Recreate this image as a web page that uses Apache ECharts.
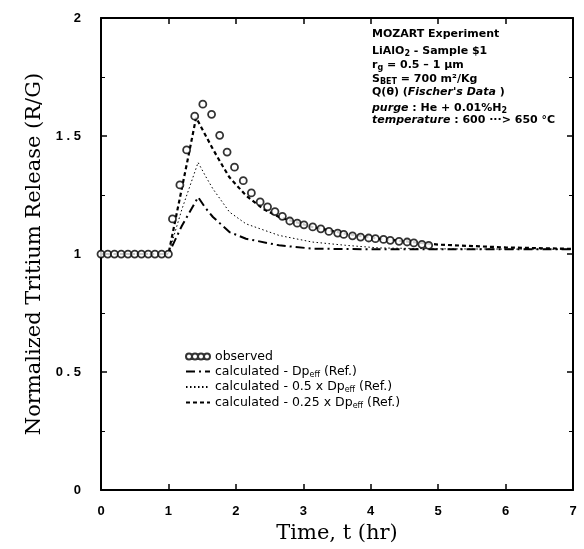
<!DOCTYPE html>
<html><head><meta charset="utf-8">
<script src="https://cdn.jsdelivr.net/npm/echarts@6/dist/echarts.min.js"></script>
<style>html,body{margin:0;padding:0;background:#fff}#c{width:584px;height:549px}</style>
</head><body><div id="c"></div>
<script>
// ---- data ----
const xTicks = [0,1,2,3,4,5,6,7];
const yTicks = [0,0.5,1,1.5,2];
const obsT = [0,0.1,0.2,0.3,0.4,0.5,0.6,0.7,0.8,0.9,1.0,1.06,1.17,1.27,1.39,1.51,1.64,1.76,1.87,1.98,2.11,2.23,2.36,2.47,2.58,2.69,2.80,2.91,3.01,3.14,3.26,3.38,3.51,3.60,3.73,3.85,3.97,4.07,4.19,4.29,4.42,4.54,4.64,4.76,4.86];
const obsV = [1,1,1,1,1,1,1,1,1,1,1,1.149,1.293,1.441,1.584,1.635,1.592,1.503,1.432,1.368,1.311,1.259,1.221,1.200,1.180,1.160,1.140,1.131,1.124,1.115,1.107,1.096,1.089,1.083,1.077,1.072,1.068,1.065,1.062,1.058,1.054,1.051,1.047,1.041,1.037];
const calcRefT = [0,1.0,1.2,1.44,1.55,1.66,1.905,2.15,2.64,3.13,4.0,5.0,7.0];
const calcRefV = [1,1,1.12,1.241,1.195,1.157,1.093,1.065,1.037,1.023,1.02,1.02,1.02];
const calcHalfT = [0,1.0,1.2,1.44,1.55,1.66,1.905,2.15,2.64,3.13,3.63,4.12,5.0,7.0];
const calcHalfV = [1,1,1.19,1.388,1.33,1.276,1.178,1.128,1.079,1.051,1.037,1.026,1.022,1.02];
const calcQuartT = [0,1.0,1.1,1.2,1.3,1.41,1.5,1.66,1.8,1.905,2.15,2.4,2.64,3.13,3.63,4.12,5.0,6.0,7.0];
const calcQuartV = [1,1,1.14,1.28,1.42,1.578,1.53,1.444,1.375,1.325,1.248,1.192,1.157,1.115,1.086,1.065,1.04,1.028,1.022];
const seriesNames = ['observed','calculated - Dp_eff (Ref.)','calculated - 0.5 x Dp_eff (Ref.)','calculated - 0.25 x Dp_eff (Ref.)'];

const pair = (t,v) => t.map((x,i)=>[x,v[i]]);
const chart = echarts.init(document.getElementById('c'), null, {renderer:'canvas'});
const ringPath = 'path://M2,5a3,3 0 1,0 6,0a3,3 0 1,0 -6,0M8,5a3,3 0 1,0 6,0a3,3 0 1,0 -6,0M14,5a3,3 0 1,0 6,0a3,3 0 1,0 -6,0M20,5a3,3 0 1,0 6,0a3,3 0 1,0 -6,0';
const tickFont = {fontFamily:'Liberation Sans', fontWeight:'bold', fontSize:13, color:'#000'};
const serif = 'DejaVu Serif';
const sans = 'DejaVu Sans';
const axisBase = {
  axisLine:{onZero:false, lineStyle:{color:'#000', width:2}},
  axisTick:{inside:true, length:6, lineStyle:{color:'#000', width:1.5}},
  splitLine:{show:false}
};
function legendFmt(n){
  if(n==='observed') return '{a|observed}';
  return n.replace(/^(.*)Dp_eff(.*)$/, '{a|$1Dp}{s|eff}{a|$2}');
}
chart.setOption({
  animation:false,
  backgroundColor:'#fff',
  color:['#000','#000','#000','#000'],
  grid:{left:101, top:18, width:472, height:475},
  xAxis:[
    Object.assign({type:'value', min:0, max:7, interval:1, position:'bottom',
      name:'Time, t (hr)', nameLocation:'middle', nameGap:26,
      nameTextStyle:{fontFamily:serif, fontSize:21, color:'#000'},
      axisLabel:Object.assign({margin:15, formatter:v=>xTicks.includes(v)?String(v):''}, tickFont)}, axisBase),
    Object.assign({type:'value', min:0, max:7, interval:1, position:'top', axisLabel:{show:false}}, axisBase)
  ],
  yAxis:[
    Object.assign({type:'value', min:0, max:2, interval:0.5, position:'left',
      name:'Normalized Tritium Release (R/G)', nameLocation:'middle', nameGap:56,
      nameTextStyle:{fontFamily:serif, fontSize:21, color:'#000'},
      minorTick:{show:true, splitNumber:2, length:4, lineStyle:{color:'#000'}},
      axisLabel:Object.assign({margin:20, formatter:v=>yTicks.includes(v)?(v%1===0?String(v):String(v).replace('.',' . ')):''}, tickFont)}, axisBase),
    Object.assign({type:'value', min:0, max:2, interval:0.5, position:'right', axisLabel:{show:false},
      minorTick:{show:true, splitNumber:2, length:4, lineStyle:{color:'#000'}}}, axisBase)
  ],
  legend:{
    orient:'vertical', left:180, top:345, itemGap:2, itemWidth:24, itemHeight:10,
    data:[
      {name:seriesNames[0], icon:ringPath},
      {name:seriesNames[1], itemStyle:{opacity:0}},
      {name:seriesNames[2], itemStyle:{opacity:0}},
      {name:seriesNames[3], itemStyle:{opacity:0}}
    ],
    formatter:legendFmt,
    textStyle:{rich:{
      a:{fontFamily:sans, fontSize:12.5, color:'#000'},
      s:{fontFamily:sans, fontSize:8, color:'#000', verticalAlign:'bottom', padding:[6,0,0,0]}
    }}
  },
  series:[
    {name:seriesNames[0], type:'scatter', data:pair(obsT,obsV), symbol:'circle', symbolSize:7,
      itemStyle:{color:'#fff', borderColor:'#000', borderWidth:1.8}, z:5},
    {name:seriesNames[1], type:'line', data:pair(calcRefT,calcRefV), showSymbol:false, symbol:'none',
      itemStyle:{color:'#000'}, lineStyle:{color:'#000', width:2, type:[9,4,2,4]}},
    {name:seriesNames[2], type:'line', data:pair(calcHalfT,calcHalfV), showSymbol:false, symbol:'none',
      itemStyle:{color:'#000'}, lineStyle:{color:'#000', width:1, type:[1.5,2.5]}},
    {name:seriesNames[3], type:'line', data:pair(calcQuartT,calcQuartV), showSymbol:false, symbol:'none',
      itemStyle:{color:'#000'}, lineStyle:{color:'#000', width:2.2, type:[4,3]}}
  ],
  graphic:[{
    type:'group', left:372, top:29,
    children:[
      ['{a|MOZART Experiment}',0],
      ['{a|LiAlO}{s|2}{a| - Sample $1}',15],
      ['{a|r}{s|g}{a| = 0.5 – 1 µm}',29],
      ['{a|S}{s|BET}{a| = 700 m²/Kg}',43],
      ['{a|Q(θ) (}{i|Fischer\'s Data}{a| )}',58],
      ['{i|purge}{a| : He + 0.01%H}{s|2}',72],
      ['{i|temperature}{a| : 600 ···> 650 °C}',86]
    ].map(([t,y])=>({type:'text', x:0, y:y, style:{text:t, rich:{
      a:{fontFamily:sans, fontSize:11, fontWeight:'bold', fill:'#000'},
      i:{fontFamily:sans, fontSize:11, fontWeight:'bold', fontStyle:'italic', fill:'#000'},
      s:{fontFamily:sans, fontSize:8, fontWeight:'bold', fill:'#000', verticalAlign:'bottom', padding:[6,0,0,0]}
    }}}))
  }]
});
</script></body></html>
